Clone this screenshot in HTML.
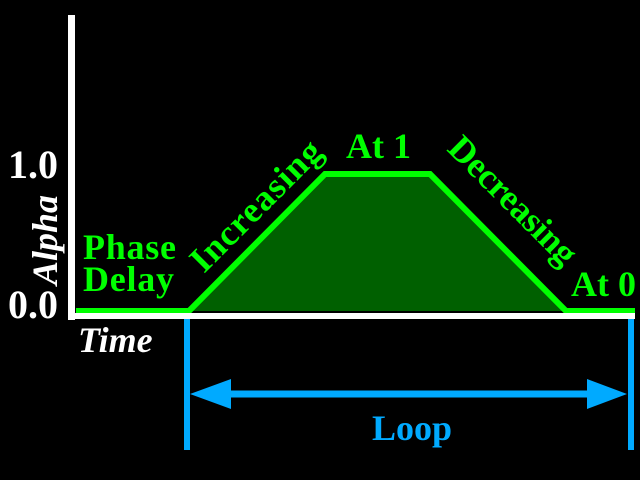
<!DOCTYPE html>
<html><head><style>body{margin:0;background:#000}svg{display:block}</style></head><body>
<svg width="640" height="480" xmlns="http://www.w3.org/2000/svg" font-family="Liberation Serif, serif" font-weight="bold">
<rect width="640" height="480" fill="#000"/>
<polygon points="190,311 325,174 430,174 565,311" fill="#006000"/>
<polyline points="76,311 189,311 325,174 430,174 566,311 635,311" fill="none" stroke="#00ff00" stroke-width="6"/>
<rect x="68" y="15" width="7" height="305" fill="#fff"/>
<rect x="68" y="313" width="567" height="6" fill="#fff"/>
<rect x="184" y="319" width="6" height="131" fill="#00aaff"/>
<rect x="628" y="319" width="6" height="131" fill="#00aaff"/>
<line x1="220" y1="394" x2="600" y2="394" stroke="#00aaff" stroke-width="7"/>
<polygon points="190,394 231,379 231,409" fill="#00aaff"/>
<polygon points="627,394 587,379 587,409" fill="#00aaff"/>
<text x="412" y="440" fill="#00aaff" font-size="36" text-anchor="middle">Loop</text>
<text x="8" y="178" fill="#fff" font-size="40">1.0</text>
<text x="8" y="318" fill="#fff" font-size="40">0.0</text>
<text transform="translate(57,240) rotate(-90)" fill="#fff" font-size="36" font-style="italic" text-anchor="middle">Alpha</text>
<text x="78" y="352" fill="#fff" font-size="36" font-style="italic">Time</text>
<g fill="#00ff00" font-size="36">
<text x="83" y="259" textLength="93">Phase</text>
<text x="83" y="291" textLength="91">Delay</text>
<text x="346" y="158">At 1</text>
<text x="571" y="296">At 0</text>
<text transform="translate(204,274) rotate(-45)" textLength="170">Increasing</text>
<text transform="translate(446,150) rotate(45)" textLength="166">Decreasing</text>
</g>
</svg>
</body></html>
